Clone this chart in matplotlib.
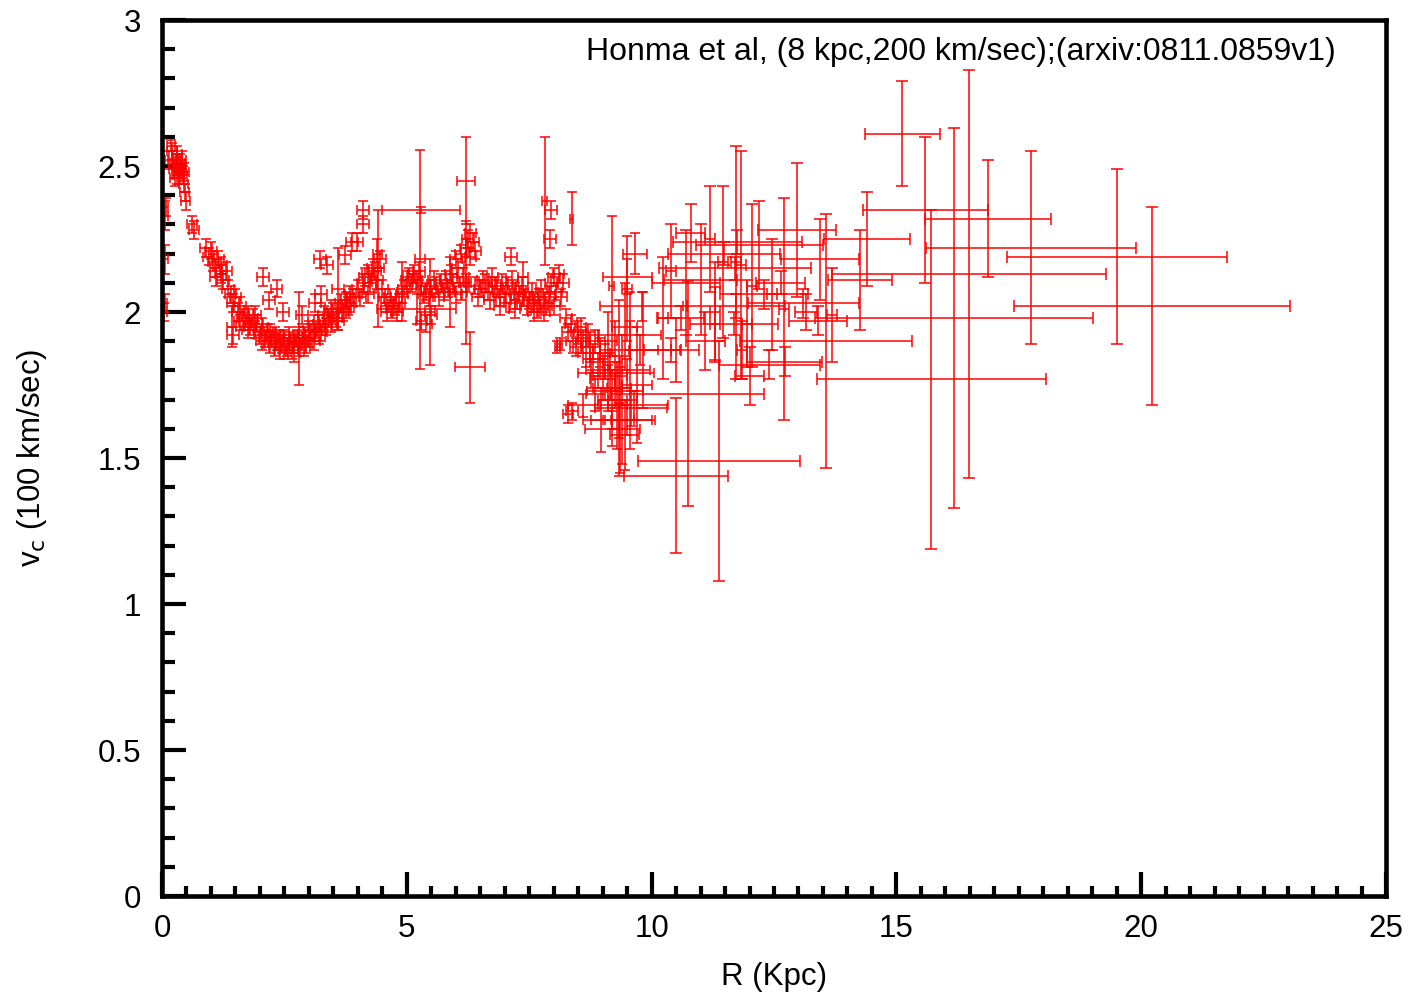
import numpy as np
import matplotlib
matplotlib.use("Agg")
import matplotlib.pyplot as plt
from matplotlib.ticker import MultipleLocator, FuncFormatter

# ---------------- data (R in kpc, v in 100 km/s, symmetric errors) ----------------
# inner rotation curve, R < 4 kpc
inner_R = [0.05, 0.06, 0.07, 0.07, 0.08, 0.15, 0.18, 0.20, 0.22, 0.24,
           0.26, 0.28, 0.30, 0.32, 0.34, 0.36, 0.38, 0.40, 0.42, 0.44,
           0.46, 0.48, 0.62, 0.66, 0.90, 0.95, 1.00, 1.05, 1.10, 1.15,
           1.20, 1.25, 1.30, 1.35, 1.40, 1.45, 1.50, 1.55, 1.60, 1.65,
           1.70, 1.75, 1.80, 1.85, 1.90, 1.95, 2.00, 2.05, 2.10, 2.15,
           2.20, 2.25, 2.30, 2.35, 2.40, 2.45, 2.50, 2.55, 2.60, 2.65,
           2.70, 2.75, 2.80, 2.85, 2.90, 2.95, 3.00, 3.05, 3.10, 3.15,
           3.20, 3.25, 3.30, 3.35, 3.40, 3.45, 3.50, 3.55, 3.60, 3.65,
           3.70, 3.75, 3.80, 3.85, 3.90, 1.10, 1.20, 1.45, 1.60, 1.75,
           1.90, 2.05, 2.20, 2.30, 2.40, 2.50, 2.60, 2.70, 2.80, 2.90,
           3.00, 3.10, 3.20, 3.30, 3.45, 3.60, 3.75, 3.85, 0.45, 0.30]
inner_v = [2.00, 2.03, 2.18, 2.33, 2.36, 2.52, 2.57, 2.55, 2.52, 2.49,
           2.46, 2.51, 2.54, 2.50, 2.47, 2.51, 2.49, 2.52, 2.47, 2.44,
           2.41, 2.38, 2.30, 2.28, 2.22, 2.19, 2.21, 2.17, 2.15, 2.18,
           2.13, 2.11, 2.14, 2.08, 2.06, 2.03, 2.05, 2.00, 2.02, 1.98,
           1.97, 1.99, 1.95, 1.98, 1.94, 1.96, 1.92, 1.95, 1.91, 1.93,
           1.89, 1.91, 1.88, 1.90, 1.87, 1.89, 1.91, 1.88, 1.90, 1.87,
           1.89, 1.91, 1.88, 1.90, 1.92, 1.89, 1.91, 1.93, 1.90, 1.94,
           1.96, 1.93, 1.97, 1.95, 1.98, 1.96, 2.00, 1.98, 2.01, 2.03,
           2.00, 2.04, 2.02, 2.06, 2.05, 2.12, 2.16, 1.92, 1.97, 1.94,
           1.99, 1.90, 1.93, 1.92, 1.91, 1.87, 1.92, 1.86, 1.92, 1.88,
           1.94, 1.96, 1.92, 1.99, 2.01, 1.97, 2.01, 2.03, 2.48, 2.47]
inner_dR = [0.05] * 5 + [0.08] * 2 + [0.10] * 17 + [0.12] * 84 + [0.10] * 2
inner_dv = [0.03, 0.03, 0.05, 0.05, 0.03, 0.03, 0.02] + [0.03] * 103

# isolated points with individual error bars (R < 10 kpc)
odd_R  = [2.06, 2.34, 2.19, 2.47, 2.86, 3.23, 3.37, 3.25, 3.12, 3.74,
          3.88, 3.98, 4.10, 4.10, 2.80, 3.60, 4.41, 5.29, 5.27, 1.42,
          6.21, 6.21, 7.82, 7.95, 7.92, 8.37, 7.13, 6.29, 9.66, 7.38,
          5.47, 4.90, 5.20, 5.88, 4.40]
odd_v  = [2.12, 2.08, 2.04, 2.00, 1.99, 2.18, 2.16, 2.06, 2.03, 2.195,
          2.24, 2.24, 2.30, 2.35, 1.91, 2.08, 2.15, 2.35, 2.18, 1.95,
          2.45, 2.10, 2.38, 2.35, 2.25, 2.32, 2.19, 1.81, 2.20, 2.12,
          2.00, 2.07, 2.01, 2.07, 2.20]
odd_dR = [0.12, 0.12, 0.12, 0.12, 0.12, 0.12, 0.12, 0.12, 0.12, 0.12,
          0.12, 0.12, 0.12, 0.12, 0.10, 0.12, 0.12, 0.80, 0.10, 0.10,
          0.19, 0.05, 0.05, 0.12, 0.12, 0.03, 0.12, 0.30, 0.25, 0.10,
          0.10, 0.10, 0.80, 0.10, 0.10]
odd_dv = [0.03, 0.03, 0.03, 0.03, 0.03, 0.03, 0.03, 0.03, 0.03, 0.03,
          0.03, 0.03, 0.03, 0.03, 0.16, 0.14, 0.20, 0.01, 0.375, 0.07,
          0.15, 0.21, 0.22, 0.03, 0.03, 0.09, 0.03, 0.12, 0.07, 0.05,
          0.18, 0.10, 0.05, 0.12, 0.05]

# main band, 4 < R < 8.3 kpc
band_R = [4.00, 4.05, 4.10, 4.15, 4.20, 4.25, 4.30, 4.35, 4.40, 4.45,
          4.50, 4.55, 4.60, 4.65, 4.70, 4.75, 4.80, 4.85, 4.90, 4.95,
          5.00, 5.05, 5.10, 5.15, 5.20, 5.25, 5.30, 5.35, 5.40, 5.45,
          5.50, 5.55, 5.60, 5.65, 5.70, 5.75, 5.80, 5.85, 5.90, 5.95,
          6.00, 6.05, 6.10, 6.15, 6.20, 6.25, 6.30, 6.35, 6.40, 6.30,
          6.00, 6.10, 6.20, 6.40, 6.45, 6.50, 6.55, 6.60, 6.65, 6.70,
          6.75, 6.80, 6.85, 6.90, 6.95, 7.00, 7.05, 7.10, 7.15, 7.20,
          7.25, 7.30, 7.35, 7.40, 7.45, 7.50, 7.55, 7.60, 7.65, 7.70,
          7.75, 7.80, 7.85, 7.90, 7.95, 8.00, 8.05, 8.10, 8.15, 8.20,
          5.30, 5.40, 5.50, 4.60, 4.20, 7.60, 7.80, 8.00, 6.90, 7.20]
band_v = [2.08, 2.05, 2.10, 2.12, 2.13, 2.10, 2.15, 2.14, 2.11, 2.18,
          2.08, 2.05, 2.03, 2.05, 2.01, 2.02, 2.00, 2.03, 2.06, 2.08,
          2.11, 2.12, 2.10, 2.13, 2.11, 2.14, 2.09, 2.06, 2.07, 2.05,
          2.08, 2.11, 2.09, 2.05, 2.10, 2.07, 2.11, 2.08, 2.13, 2.10,
          2.18, 2.15, 2.20, 2.12, 2.22, 2.25, 2.27, 2.24, 2.21, 2.19,
          2.06, 2.07, 2.10, 2.09, 2.05, 2.08, 2.11, 2.10, 2.07, 2.04,
          2.12, 2.09, 2.08, 2.05, 2.10, 2.06, 2.09, 2.03, 2.11, 2.07,
          2.04, 2.06, 2.09, 2.05, 2.02, 2.04, 2.07, 2.03, 2.01, 2.05,
          2.08, 2.04, 2.02, 2.06, 2.10, 2.12, 2.07, 2.13, 2.05, 2.10,
          1.97, 1.96, 1.99, 2.00, 2.06, 2.00, 2.00, 2.02, 2.02, 2.01]
band_dR = [0.12] * 100
band_dv = [0.03] * 100

# transition region, 8.2 < R < 10 kpc
mid_R  = [8.25, 8.30, 8.35, 8.40, 8.45, 8.50, 8.55, 8.60, 8.65, 8.70,
          8.75, 8.80, 8.85, 8.90, 8.95, 9.00, 9.05, 9.10, 9.15, 9.20,
          8.37, 8.30, 8.60, 8.97, 9.33, 9.40, 9.56, 9.83, 9.35, 9.50,
          9.19, 9.50, 9.80, 9.56, 9.76, 9.50, 9.64, 9.50, 8.77, 9.25,
          9.58, 9.33, 9.20, 9.25, 9.45, 9.30, 9.70, 9.10, 8.85, 9.45,
          8.07, 8.12]
mid_v  = [1.98, 1.93, 1.96, 1.90, 1.88, 1.93, 1.95, 1.90, 1.86, 1.92,
          1.88, 1.84, 1.90, 1.80, 1.86, 1.77, 1.83, 1.74, 1.78, 1.70,
          1.66, 1.65, 1.68, 1.63, 1.74, 1.70, 1.80, 1.87, 1.63, 2.12,
          2.09, 2.08, 2.02, 1.92, 1.87, 1.79, 1.68, 1.63, 1.79, 1.73,
          1.67, 1.63, 1.60, 1.85, 1.95, 1.68, 1.75, 1.90, 1.72, 1.58,
          1.88, 1.89]
mid_dR = [0.12, 0.12, 0.12, 0.15, 0.12, 0.15, 0.12, 0.15, 0.15, 0.20,
          0.20, 0.20, 0.20, 0.25, 0.20, 0.25, 0.30, 0.30, 0.35, 0.30,
          0.12, 0.10, 0.30, 0.20, 0.25, 0.30, 0.40, 0.30, 0.30, 0.50,
          0.05, 0.10, 0.85, 0.64, 0.82, 0.55, 0.70, 0.50, 0.27, 0.57,
          0.74, 0.73, 0.56, 0.30, 0.25, 0.20, 0.30, 0.20, 0.20, 0.30,
          0.05, 0.05]
mid_dv = [0.03, 0.03, 0.03, 0.04, 0.03, 0.04, 0.03, 0.04, 0.05, 0.04,
          0.05, 0.05, 0.04, 0.06, 0.05, 0.07, 0.06, 0.08, 0.08, 0.10,
          0.03, 0.03, 0.04, 0.11, 0.30, 0.22, 0.27, 0.20, 0.18, 0.06,
          0.24, 0.18, 0.05, 0.05, 0.05, 0.05, 0.05, 0.05, 0.05, 0.06,
          0.06, 0.06, 0.06, 0.12, 0.15, 0.15, 0.20, 0.10, 0.06, 0.12,
          0.02, 0.02]

# outer disc, 10 < R < 15 kpc
outer_R  = [10.50, 10.74, 11.38, 10.40, 10.70, 11.00, 11.20, 11.46, 11.72, 11.83,
            12.05, 12.46, 12.70, 11.30, 10.23, 10.50, 11.95, 11.85, 11.30, 12.97,
            13.44, 13.56, 13.68, 14.26, 14.40, 11.75, 11.70, 11.48, 11.72, 11.68,
            10.60, 10.40, 12.64, 13.15, 12.72, 12.40, 13.10, 12.20, 12.30, 13.40,
            10.80, 11.10, 12.00]
outer_v  = [1.44, 1.72, 1.49, 2.14, 2.10, 2.11, 2.25, 2.17, 2.17, 2.16,
            2.09, 2.06, 2.01, 1.96, 1.98, 1.87, 1.96, 1.87, 2.00, 2.28,
            2.18, 1.90, 1.99, 2.11, 2.25, 2.24, 2.15, 2.20, 2.02, 1.96,
            1.98, 1.87, 2.10, 2.00, 1.83, 1.82, 2.03, 2.23, 2.06, 1.97,
            2.27, 1.90, 1.78]
outer_dR = [1.06, 1.56, 1.65, 0.10, 0.70, 0.75, 0.10, 0.10, 0.10, 0.10,
            0.10, 0.10, 0.10, 0.10, 0.10, 0.10, 0.10, 0.10, 0.10, 0.80,
            0.80, 1.75, 0.10, 0.66, 0.88, 1.32, 1.55, 1.14, 1.00, 0.90,
            0.48, 0.56, 0.50, 0.22, 0.77, 1.03, 1.14, 1.30, 0.90, 0.60,
            0.30, 0.40, 0.30]
outer_dv = [0.265, 0.385, 0.41, 0.16, 0.18, 0.19, 0.18, 0.26, 0.40, 0.39,
            0.28, 0.19, 0.38, 0.125, 0.21, 0.11, 0.15, 0.10, 0.17, 0.23,
            0.14, 0.435, 0.16, 0.17, 0.16, 0.04, 0.04, 0.04, 0.04, 0.04,
            0.04, 0.04, 0.04, 0.06, 0.05, 0.05, 0.05, 0.15, 0.05, 0.05,
            0.10, 0.10, 0.10]

# far outer points, R > 15 kpc
far_R  = [15.12, 15.59, 16.87, 16.48, 16.18, 15.71, 17.75, 19.51, 20.22]
far_v  = [2.61, 2.35, 2.32, 2.13, 1.98, 1.77, 2.22, 2.19, 2.02]
far_dR = [0.77, 1.28, 1.28, 2.80, 2.84, 2.34, 2.15, 2.25, 2.81]
far_dv = [0.18, 0.25, 0.20, 0.70, 0.65, 0.58, 0.33, 0.30, 0.34]

annotation = "Honma et al, (8 kpc,200 km/sec);(arxiv:0811.0859v1)"
x_label = "R (Kpc)"
y_label = r"v$_{\rm c}$ (100 km/sec)"
x_ticks = [0, 5, 10, 15, 20, 25]
y_ticks = [0, 0.5, 1, 1.5, 2, 2.5, 3]

groups = [
    (inner_R, inner_v, inner_dR, inner_dv),
    (odd_R, odd_v, odd_dR, odd_dv),
    (band_R, band_v, band_dR, band_dv),
    (mid_R, mid_v, mid_dR, mid_dv),
    (outer_R, outer_v, outer_dR, outer_dv),
    (far_R, far_v, far_dR, far_dv),
]
for g in groups:
    assert len(set(len(a) for a in g)) == 1, [len(a) for a in g]

# ---------------- plotting ----------------
plt.rcParams["font.family"] = ["Liberation Sans", "DejaVu Sans"]
plt.rcParams["mathtext.default"] = "regular"
plt.rcParams["font.size"] = 22.5

fig = plt.figure(figsize=(14.15, 9.98), dpi=100)
ax = fig.add_axes([162 / 1415, 102 / 998, 1224 / 1415, 876 / 998])

cap_sizes = [3.3, 3.8, 3.3, 3.8, 4.2, 4.2]
for (R, v, dR, dv), cs in zip(groups, cap_sizes):
    ax.errorbar(R, v, xerr=dR, yerr=dv, fmt="none", ecolor="#ff0000",
                elinewidth=1.15, capsize=cs, capthick=1.15, alpha=0.95)

ax.set_xlim(0, 25)
ax.set_ylim(0, 3)
ax.set_xticks(x_ticks)
ax.set_yticks(y_ticks)
ax.xaxis.set_minor_locator(MultipleLocator(0.5))
ax.yaxis.set_minor_locator(MultipleLocator(0.1))
fmt = FuncFormatter(lambda val, pos: "%g" % val)
ax.xaxis.set_major_formatter(fmt)
ax.yaxis.set_major_formatter(fmt)

ax.tick_params(axis="both", which="both", direction="in", top=False, right=False,
               width=3, color="black")
ax.tick_params(axis="both", which="major", length=17)
ax.tick_params(axis="x", which="minor", length=7.5)
ax.tick_params(axis="y", which="minor", length=9)
ax.tick_params(axis="x", which="major", pad=13)
ax.tick_params(axis="y", which="major", pad=15)
for s in ax.spines.values():
    s.set_linewidth(3.3)

ax.set_xlabel(x_label)
ax.xaxis.set_label_coords(0.5, -0.075)
ax.xaxis.label.set_va("top")
ax.set_ylabel(y_label)
ax.yaxis.set_label_coords(-0.092, 0.5)

ax.text(0.959, 0.963, annotation, transform=ax.transAxes, ha="right", va="center",
        fontsize=23)

fig.savefig("out.png", dpi=100)
